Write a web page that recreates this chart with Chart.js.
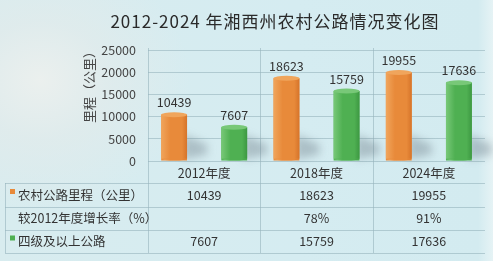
<!DOCTYPE html>
<html>
<head>
<meta charset="utf-8">
<script src="https://cdn.jsdelivr.net/npm/chart.js@4.4.1/dist/chart.umd.min.js"></script>
<style>
  html, body { margin: 0; padding: 0; }
  body {
    width: 493px; height: 261px; overflow: hidden;
    background:
      radial-gradient(ellipse 150px 130px at 40px 80px, rgba(236,240,238,0.95) 0%, rgba(226,235,235,0.7) 45%, rgba(214,235,240,0) 100%),
      linear-gradient(90deg, #d8ecef 0%, #d5ecf1 60%, #d3ebf0 97%, #e6f3f5 100%);
  }
  #chart { display: block; }
</style>
</head>
<body>
<canvas id="chart" width="493" height="261"></canvas>
<script>
// data
const categories = ['2012年度', '2018年度', '2024年度'];
const mileage = [10439, 18623, 19955];        // 农村公路里程（公里）
const gradeFour = [7607, 15759, 17636];       // 四级及以上公路
const growth = ['', '78%', '91%'];            // 较2012年度增长率（%）
const seriesNames = ['农村公路里程（公里）', '四级及以上公路'];
const growthName = '较2012年度增长率（%）';
const yMax = 25000;
const yStep = 5000;

const titleText = '2012-2024 年湘西州农村公路情况变化图';
const yTitle = '里程（公里）';

const FONT = '"Noto Sans CJK SC", sans-serif';
const ORANGE = ['#f0a55c', '#e88a3a', '#d6742a'];
const GREEN = ['#78c878', '#4fb052', '#3d9842'];
const LINE = 'rgba(150,180,188,0.6)';

const decor = {
  id: 'decor',
  beforeDraw(chart) {
    const ctx = chart.ctx;
    const area = chart.chartArea;
    const x = chart.scales.x;
    ctx.save();
    // title
    ctx.fillStyle = '#2a2a2a';
    ctx.font = '17px ' + FONT;
    ctx.letterSpacing = '1px';
    ctx.textAlign = 'center';
    ctx.textBaseline = 'middle';
    ctx.fillText(titleText, 275, 22);
    ctx.letterSpacing = '0px';

    // y axis title, rotated
    ctx.save();
    ctx.translate(89, 84);
    ctx.rotate(-Math.PI / 2);
    ctx.font = '13px ' + FONT;
    ctx.fillStyle = '#444';
    ctx.fillText(yTitle, 0, 0);
    ctx.restore();

    // category labels under the plot
    ctx.font = '12.5px ' + FONT;
    ctx.fillStyle = '#333';
    categories.forEach((c, i) => ctx.fillText(c, x.getPixelForValue(i), 173));

    // table + column lines
    ctx.strokeStyle = LINE;
    ctx.lineWidth = 1;
    const half = (x.getPixelForValue(1) - x.getPixelForValue(0)) / 2;
    const cols = [area.left];
    categories.forEach((c, i) => { if (i > 0) cols.push(x.getPixelForValue(i) - half); });
    ctx.beginPath();
    cols.forEach(cx => { ctx.moveTo(Math.round(cx) + 0.5, 48); ctx.lineTo(Math.round(cx) + 0.5, 253); });
    ctx.moveTo(5.5, 183); ctx.lineTo(5.5, 253);
    [183, 207, 230, 253].forEach(ly => { ctx.moveTo(5, ly + 0.5); ctx.lineTo(area.right, ly + 0.5); });
    ctx.stroke();
    ctx.restore();
  },
  beforeDatasetsDraw(chart) {
    // soft shadows behind the cylinders
    const ctx = chart.ctx;
    ctx.save();
    ctx.filter = 'blur(4px)';
    ctx.fillStyle = 'rgba(95,110,120,0.35)';
    chart.data.datasets.forEach((ds, i) => {
      chart.getDatasetMeta(i).data.forEach(bar => {
        const p = bar.getProps(['x', 'y', 'base', 'width'], true);
        const r = p.x + p.width / 2;
        ctx.beginPath();
        ctx.moveTo(r - 4, p.base - 1);
        ctx.lineTo(r + 20, p.base - 6);
        ctx.lineTo(r + 20, p.base - 16);
        ctx.lineTo(r - 4, p.base - 26);
        ctx.closePath();
        ctx.fill();
      });
    });
    ctx.restore();
  },
  afterDatasetsDraw(chart) {
    const ctx = chart.ctx;
    ctx.save();
    chart.data.datasets.forEach((ds, i) => {
      const pal = i === 0 ? ORANGE : GREEN;
      chart.getDatasetMeta(i).data.forEach((bar, j) => {
        const p = bar.getProps(['x', 'y', 'base', 'width'], true);
        const l = p.x - p.width / 2;
        const g = ctx.createLinearGradient(l, 0, l + p.width, 0);
        g.addColorStop(0, pal[0]);
        g.addColorStop(0.35, pal[1]);
        g.addColorStop(0.8, pal[1]);
        g.addColorStop(1, pal[2]);
        // body of the cylinder
        ctx.fillStyle = g;
        ctx.fillRect(l, p.y, p.width, p.base - 2 - p.y);
        ctx.beginPath();
        ctx.ellipse(p.x, p.base - 2, p.width / 2, 2, 0, 0, Math.PI);
        ctx.fill();
        // top cap
        ctx.beginPath();
        ctx.ellipse(p.x, p.y, p.width / 2, 2.5, 0, 0, Math.PI * 2);
        ctx.fillStyle = pal[0];
        ctx.fill();
        // value label
        ctx.fillStyle = '#333';
        ctx.font = '12.5px ' + FONT;
        ctx.textAlign = 'center';
        ctx.textBaseline = 'bottom';
        ctx.fillText(String(ds.data[j]), p.x, p.y - 6);
      });
    });
    ctx.restore();
  },
  afterDraw(chart) {
    const ctx = chart.ctx;
    const x = chart.scales.x;
    const rows = [
      { name: seriesNames[0], vals: mileage, mark: ORANGE[1], y: 195 },
      { name: growthName, vals: growth, mark: null, y: 218.5 },
      { name: seriesNames[1], vals: gradeFour, mark: GREEN[1], y: 241.5 }
    ];
    ctx.save();
    ctx.font = '12.5px ' + FONT;
    ctx.fillStyle = '#333';
    ctx.textBaseline = 'middle';
    rows.forEach(r => {
      if (r.mark) {
        ctx.fillStyle = r.mark;
        ctx.fillRect(10, r.y - 6, 5, 5);
        ctx.fillStyle = '#333';
      }
      ctx.textAlign = 'left';
      ctx.fillText(r.name, 18, r.y);
      ctx.textAlign = 'center';
      r.vals.forEach((v, i) => ctx.fillText(String(v), x.getPixelForValue(i), r.y));
    });
    ctx.restore();
  }
};

new Chart(document.getElementById('chart'), {
  type: 'bar',
  data: {
    labels: categories,
    datasets: [
      { label: seriesNames[0], data: mileage, backgroundColor: ORANGE[1], borderWidth: 0 },
      { label: seriesNames[1], data: gradeFour, backgroundColor: GREEN[1], borderWidth: 0 }
    ]
  },
  options: {
    responsive: false,
    animation: false,
    layout: { padding: { top: 50, right: 8, left: 0, bottom: 0 } },
    datasets: { bar: { categoryPercentage: 1.07, barPercentage: 0.43 } },
    plugins: { legend: { display: false }, tooltip: { enabled: false } },
    scales: {
      x: {
        grid: { display: false },
        border: { display: false },
        ticks: { display: false },
        afterFit(s) { s.height = 100; }
      },
      y: {
        min: 0, max: yMax,
        grid: { color: LINE, drawTicks: false },
        border: { display: false },
        ticks: {
          stepSize: yStep, color: '#444', padding: 12,
          font: { size: 12.5, family: FONT },
          callback: v => String(v)
        },
        afterFit(s) { s.width = 148; }
      }
    }
  },
  plugins: [decor]
});
</script>
</body>
</html>
